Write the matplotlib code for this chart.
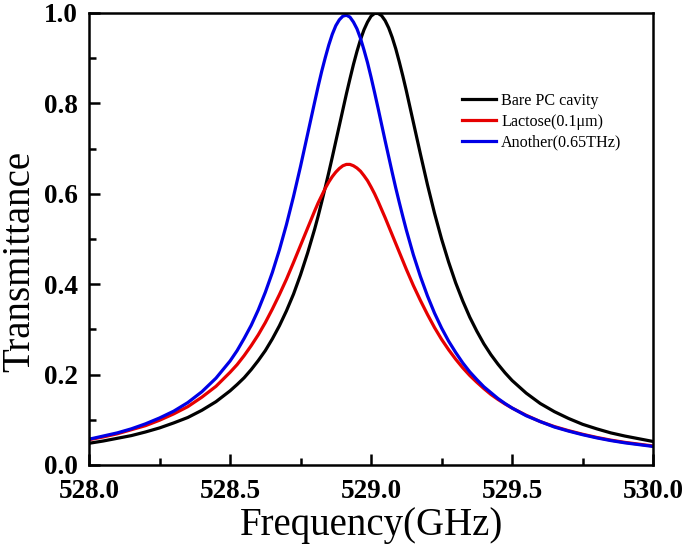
import matplotlib
matplotlib.use("Agg")
import matplotlib.pyplot as plt
from matplotlib.ticker import MultipleLocator, FormatStrFormatter

plt.rcParams['font.family'] = ['Liberation Serif', 'DejaVu Serif']

# frequency samples (GHz), finer steps around the resonance peaks
freq = [528.0, 528.05, 528.1, 528.15, 528.2, 528.25, 528.3, 528.35, 528.4, 528.45,
        528.5, 528.525, 528.55, 528.575, 528.6, 528.625, 528.65, 528.675, 528.7, 528.725,
        528.75, 528.775, 528.8, 528.8125, 528.825, 528.8375, 528.85, 528.8625, 528.875, 528.8875,
        528.9, 528.9125, 528.925, 528.9375, 528.95, 528.9625, 528.975, 528.9875, 529.0, 529.0125,
        529.025, 529.0375, 529.05, 529.0625, 529.075, 529.0875, 529.1, 529.1125, 529.125, 529.15,
        529.175, 529.2, 529.225, 529.25, 529.275, 529.3, 529.325, 529.35, 529.375, 529.4,
        529.425, 529.45, 529.475, 529.5, 529.55, 529.6, 529.65, 529.7, 529.75, 529.8,
        529.85, 529.9, 529.95, 530.0]

bare = [0.048, 0.053, 0.059, 0.065, 0.073, 0.082, 0.093, 0.105, 0.121, 0.140,
        0.164, 0.178, 0.193, 0.211, 0.231, 0.253, 0.279, 0.308, 0.341, 0.378,
        0.421, 0.469, 0.522, 0.551, 0.582, 0.614, 0.647, 0.681, 0.716, 0.751,
        0.786, 0.821, 0.854, 0.886, 0.915, 0.941, 0.963, 0.980, 0.993, 0.999,
        0.999, 0.994, 0.983, 0.967, 0.946, 0.921, 0.892, 0.861, 0.828, 0.758,
        0.688, 0.620, 0.557, 0.500, 0.449, 0.403, 0.363, 0.327, 0.296, 0.268,
        0.244, 0.223, 0.204, 0.187, 0.159, 0.136, 0.118, 0.103, 0.090, 0.080,
        0.071, 0.064, 0.058, 0.052]

lactose = [0.056, 0.062, 0.069, 0.078, 0.087, 0.099, 0.113, 0.129, 0.150, 0.174,
           0.205, 0.222, 0.242, 0.264, 0.288, 0.315, 0.345, 0.377, 0.411, 0.448,
           0.486, 0.524, 0.562, 0.580, 0.596, 0.612, 0.626, 0.638, 0.648, 0.656,
           0.662, 0.665, 0.665, 0.662, 0.657, 0.650, 0.640, 0.629, 0.615, 0.600,
           0.583, 0.565, 0.547, 0.528, 0.509, 0.490, 0.471, 0.452, 0.433, 0.397,
           0.364, 0.333, 0.304, 0.278, 0.255, 0.234, 0.215, 0.198, 0.183, 0.169,
           0.156, 0.145, 0.135, 0.126, 0.110, 0.096, 0.085, 0.076, 0.068, 0.061,
           0.055, 0.050, 0.046, 0.042]

another = [0.057, 0.064, 0.071, 0.080, 0.091, 0.104, 0.119, 0.138, 0.162, 0.192,
           0.230, 0.253, 0.280, 0.309, 0.343, 0.382, 0.426, 0.476, 0.532, 0.594,
           0.661, 0.732, 0.803, 0.838, 0.871, 0.901, 0.929, 0.953, 0.972, 0.985,
           0.993, 0.995, 0.991, 0.980, 0.965, 0.944, 0.918, 0.890, 0.858, 0.824,
           0.789, 0.753, 0.717, 0.682, 0.647, 0.613, 0.581, 0.550, 0.520, 0.465,
           0.417, 0.374, 0.336, 0.303, 0.274, 0.249, 0.226, 0.206, 0.189, 0.173,
           0.160, 0.147, 0.136, 0.126, 0.109, 0.096, 0.084, 0.075, 0.067, 0.060,
           0.054, 0.049, 0.045, 0.041]

fig = plt.figure(figsize=(6.85, 5.48), dpi=100)
ax = fig.add_axes([0.130, 0.1515, 0.8234, 0.8248])

ax.plot(freq, bare, color='black', lw=2.3, label='Bare PC cavity')
ax.plot(freq, lactose, color='#e60000', lw=2.3, label='Lactose(0.1\u03bcm)')
ax.plot(freq, another, color='#0000e6', lw=2.3, label='Another(0.65THz)')

ax.set_xlim(528.0, 530.0)
ax.set_ylim(0.0, 1.0)
ax.xaxis.set_major_locator(MultipleLocator(0.5))
ax.xaxis.set_minor_locator(MultipleLocator(0.25))
ax.yaxis.set_major_locator(MultipleLocator(0.2))
ax.yaxis.set_minor_locator(MultipleLocator(0.1))
ax.xaxis.set_major_formatter(FormatStrFormatter('%.1f'))
ax.yaxis.set_major_formatter(FormatStrFormatter('%.1f'))

ax.tick_params(which='both', direction='in', top=False, right=False, width=1.8)
ax.tick_params(which='major', length=8, labelsize=19.5)
ax.tick_params(axis='x', which='major', pad=10)
ax.tick_params(axis='y', which='major', pad=8)
ax.tick_params(which='minor', length=5)
for lab in ax.get_xticklabels() + ax.get_yticklabels():
    lab.set_fontweight('bold')
for sp in ax.spines.values():
    sp.set_linewidth(1.8)

ax.set_xlabel('Frequency(GHz)', fontsize=28)
ax.set_ylabel('Transmittance', fontsize=28)
ax.xaxis.set_label_coords(0.5, -0.092)
ax.yaxis.set_label_coords(-0.090, 0.45)

ax.legend(loc='upper left', bbox_to_anchor=(0.635, 0.855), frameon=False,
          fontsize=11.6, handlelength=2.1, handletextpad=0.35, labelspacing=0.3)

fig.savefig('out.png', dpi=100)
